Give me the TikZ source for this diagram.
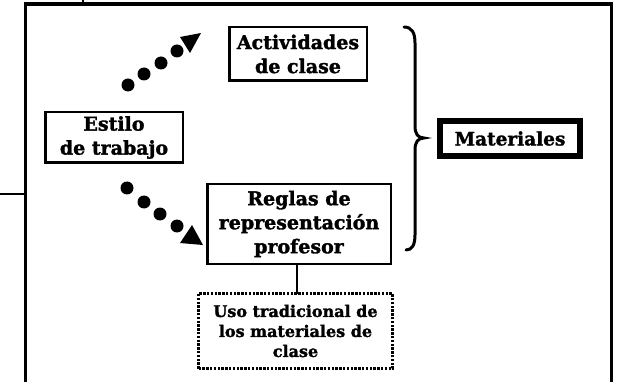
\documentclass[tikz,border=0pt]{standalone}
\usepackage{fontspec}
\setmainfont{DejaVu Serif}
\newfontfamily\heavyfont[FakeBold=1.6]{DejaVu Serif Bold}
\begin{document}
\begin{tikzpicture}[x=1pt,y=-1pt,
  box/.style={draw, line width=2.5pt, inner sep=0pt, outer sep=0pt, align=center,
    font=\heavyfont\fontsize{19}{24}\selectfont},
  dotbox/.style={box, line width=3pt, dash pattern=on 2.4pt off 1.4pt, font=\heavyfont\fontsize{16}{20}\selectfont},
  bigbox/.style={box, line width=6pt, font=\heavyfont\fontsize{18.5}{24}\selectfont},
  frameline/.style={line width=3.5pt},
  thin/.style={line width=1.5pt},
  arrowdot/.style={fill=black},
]
\useasboundingbox (0,0) rectangle (618,382);
\clip (0,0) rectangle (618,382);
\fill[white] (0,0) rectangle (618,382);

% outer frame
\draw[frameline] (25.5,400) -- (25.5,4) -- (611.5,4) -- (611.5,400);
\coordinate (tickA) at (83,0);
\coordinate (tickB) at (83,4);
\draw[thin] (tickA) -- (tickB);
\coordinate (sideA) at (0,194);
\coordinate (sideB) at (25.5,194);
\draw[thin] (sideA) -- (sideB);

% boxes
\node[box, minimum width=137.5pt, minimum height=50.5pt] (estilo) at (114,137.5) {Estilo\\de trabajo};
\node[box, minimum width=137.5pt, minimum height=53.5pt] (activ) at (298,54) {Actividades\\de clase};
\node[box, minimum width=183.5pt, minimum height=79.5pt] (reglas) at (299,224) {Reglas de\\representación\\profesor};
\node[dotbox, minimum width=194pt, minimum height=75pt] (uso) at (295.5,331) {Uso tradicional de\\los materiales de\\clase};
\node[bigbox, minimum width=140pt, minimum height=35pt] (mat) at (510,138.5) {Materiales};

% connector reglas - uso
\coordinate (rb) at ([xshift=-2pt]reglas.south);
\draw[line width=2.5pt] (rb) -- (rb |- uso.north);

% brace
\draw[line width=3pt, line cap=round]
  (404,27) .. controls (412,27) and (415,33) .. (415,43)
  -- (415,126) .. controls (415,134) and (418,138) .. (424,138)
  .. controls (418,138) and (415,142) .. (415,150)
  -- (415,235) .. controls (415,245) and (412,250) .. (406,250);

% dotted arrow up
\foreach \p in {(128,85),(144,74),(161,63),(177,51)}
  \fill[arrowdot] \p circle (6.5pt);
\fill[arrowdot] (180,37) -- (201,33) -- (190,53) -- cycle;

% dotted arrow down
\foreach \p in {(127,188),(144,202),(160,214),(177,226)}
  \fill[arrowdot] \p circle (6.5pt);
\fill[arrowdot] (180,243) -- (192,225) -- (203,245) -- cycle;
\end{tikzpicture}
\end{document}
